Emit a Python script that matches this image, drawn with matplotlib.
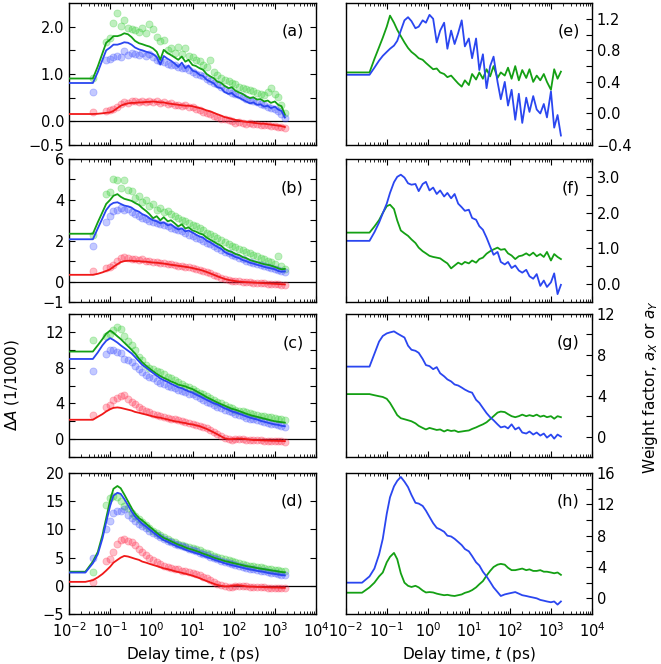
import matplotlib
matplotlib.use('Agg')
import matplotlib.pyplot as plt
from matplotlib.ticker import LogLocator, NullFormatter

plt.rcParams['font.family'] = 'DejaVu Sans'
plt.rcParams['font.size'] = 10.5

# delay times (ps) of the fitted curves and of the measured points
t_fit = [0.01, 0.025, 0.038, 0.05, 0.065, 0.08, 0.1, 0.12, 0.15, 0.18,
         0.22, 0.27, 0.33, 0.4, 0.5, 0.6, 0.75, 0.9, 1.1, 1.35,
         1.65, 2, 2.5, 3, 3.7, 4.5, 5.5, 6.7, 8, 10,
         12, 15, 18, 22, 27, 33, 40, 50, 60, 75,
         90, 110, 135, 165, 200, 250, 300, 370, 450, 550,
         670, 800, 1000, 1200, 1450, 1750]
t_dat = [0.038, 0.08, 0.1, 0.12, 0.15, 0.18, 0.22, 0.27, 0.33, 0.4,
         0.5, 0.6, 0.75, 0.9, 1.1, 1.35, 1.65, 2, 2.5, 3,
         3.7, 4.5, 5.5, 6.7, 8, 10, 12, 15, 18, 22,
         27, 33, 40, 50, 60, 75, 90, 110, 135, 165,
         200, 250, 300, 370, 450, 550, 670, 800, 1000, 1200,
         1450, 1750]
decades = [1e-2, 1e-1, 1e0, 1e1, 1e2, 1e3, 1e4]

# ---- panel (a)
a_green_fit = [0.905, 0.905, 0.905, 1.16, 1.44, 1.66, 1.73, 1.80, 1.80, 1.82,
               1.86, 1.84, 1.78, 1.70, 1.65, 1.63, 1.60, 1.58, 1.54, 1.47,
               1.30, 1.51, 1.44, 1.40, 1.35, 1.30, 1.37, 1.26, 1.30, 1.19,
               1.17, 1.12, 1.09, 1.00, 0.95, 0.91, 0.84, 0.81, 0.75, 0.70,
               0.72, 0.65, 0.61, 0.58, 0.53, 0.49, 0.51, 0.46, 0.47, 0.42,
               0.44, 0.39, 0.42, 0.35, 0.32, 0.14]
a_blue_fit = [0.81, 0.81, 0.81, 1.04, 1.30, 1.50, 1.56, 1.62, 1.62, 1.64,
              1.67, 1.66, 1.62, 1.56, 1.52, 1.50, 1.47, 1.45, 1.42, 1.36,
              1.20, 1.38, 1.32, 1.28, 1.22, 1.15, 1.24, 1.12, 1.18, 1.07,
              1.05, 0.98, 0.96, 0.88, 0.84, 0.80, 0.72, 0.70, 0.62, 0.58,
              0.60, 0.53, 0.50, 0.46, 0.42, 0.38, 0.40, 0.35, 0.36, 0.31,
              0.33, 0.28, 0.31, 0.25, 0.22, 0.08]
a_red_fit = [0.155, 0.155, 0.155, 0.16, 0.17, 0.18, 0.19, 0.22, 0.28, 0.33,
             0.36, 0.38, 0.39, 0.39, 0.40, 0.40, 0.41, 0.41, 0.42, 0.41,
             0.40, 0.40, 0.38, 0.37, 0.36, 0.35, 0.34, 0.33, 0.33, 0.32,
             0.30, 0.28, 0.26, 0.23, 0.21, 0.18, 0.15, 0.12, 0.09, 0.07,
             0.05, 0.03, 0.02, 0.00, -0.01, -0.02, -0.03, -0.04, -0.05, -0.05,
             -0.06, -0.07, -0.08, -0.09, -0.10, -0.12]
a_green_dat = [0.92, 1.68, 1.75, 2.08, 2.28, 2.02, 2.14, 1.98, 1.95, 1.92,
               1.88, 1.98, 1.86, 2.05, 1.95, 1.78, 1.70, 1.72, 1.50, 1.55,
               1.45, 1.58, 1.42, 1.55, 1.38, 1.35, 1.30, 1.28, 1.20, 1.15,
               1.30, 1.05, 0.98, 0.92, 0.88, 0.85, 0.80, 0.78, 0.72, 0.70,
               0.68, 0.66, 0.64, 0.60, 0.58, 0.55, 0.62, 0.70, 0.58, 0.52,
               0.35, 0.18]
a_blue_dat = [0.61, 1.30, 1.32, 1.35, 1.38, 1.36, 1.48, 1.40, 1.45, 1.42,
              1.40, 1.45, 1.38, 1.42, 1.35, 1.30, 1.28, 1.25, 1.22, 1.20,
              1.18, 1.15, 1.12, 1.12, 1.08, 1.05, 1.00, 0.98, 0.95, 0.90,
              0.86, 0.82, 0.78, 0.72, 0.68, 0.65, 0.60, 0.58, 0.55, 0.52,
              0.48, 0.45, 0.42, 0.40, 0.36, 0.34, 0.30, 0.28, 0.26, 0.22,
              0.15, 0.08]
a_red_dat = [0.20, 0.22, 0.24, 0.26, 0.30, 0.36, 0.40, 0.38, 0.42, 0.44,
             0.40, 0.42, 0.41, 0.44, 0.40, 0.42, 0.38, 0.40, 0.36, 0.38,
             0.34, 0.35, 0.32, 0.34, 0.30, 0.30, 0.26, 0.24, 0.20, 0.18,
             0.16, 0.12, 0.10, 0.06, 0.04, 0.02, 0.00, -0.03, -0.02, -0.04,
             -0.05, -0.04, -0.06, -0.05, -0.07, -0.08, -0.07, -0.10, -0.10, -0.12,
             -0.11, -0.14]

# ---- panel (b)
b_green_fit = [2.34, 2.34, 2.34, 2.9, 3.4, 3.8, 4.0, 4.2, 4.28, 4.15,
               4.05, 4.0, 3.95, 3.85, 3.75, 3.6, 3.45, 3.3, 3.1, 3.2,
               3.0, 3.15, 2.95, 3.0, 2.85, 2.7, 2.8, 2.6, 2.65, 2.5,
               2.45, 2.35, 2.3, 2.15, 2.05, 1.95, 1.85, 1.75, 1.6, 1.5,
               1.45, 1.35, 1.3, 1.2, 1.15, 1.05, 1.0, 0.95, 0.9, 0.85,
               0.82, 0.78, 0.72, 0.65, 0.6, 0.62]
b_blue_fit = [2.07, 2.07, 2.07, 2.6, 3.1, 3.5, 3.75, 3.85, 3.88, 3.8,
              3.72, 3.68, 3.62, 3.5, 3.42, 3.3, 3.22, 3.1, 3.0, 2.95,
              2.85, 2.9, 2.75, 2.8, 2.65, 2.55, 2.6, 2.45, 2.5, 2.4,
              2.3, 2.2, 2.15, 2.0, 1.92, 1.8, 1.7, 1.6, 1.45, 1.35,
              1.3, 1.2, 1.15, 1.05, 1.0, 0.92, 0.88, 0.82, 0.78, 0.72,
              0.68, 0.65, 0.6, 0.52, 0.48, 0.5]
b_red_fit = [0.33, 0.33, 0.33, 0.38, 0.45, 0.52, 0.6, 0.72, 0.85, 0.95,
             1.0, 1.02, 1.02, 1.0, 1.0, 0.98, 0.97, 0.95, 0.93, 0.92,
             0.9, 0.88, 0.85, 0.82, 0.8, 0.77, 0.75, 0.72, 0.7, 0.66,
             0.62, 0.58, 0.53, 0.47, 0.4, 0.33, 0.26, 0.19, 0.13, 0.08,
             0.05, 0.02, 0.0, -0.02, -0.03, -0.04, -0.05, -0.06, -0.07, -0.08,
             -0.09, -0.1, -0.11, -0.12, -0.13, -0.14]
b_green_dat = [2.3, 4.3, 4.4, 5.0, 4.95, 4.6, 4.95, 4.5, 4.45, 4.1,
               4.2, 3.9, 4.0, 3.7, 3.8, 3.5, 3.6, 3.4, 3.45, 3.3,
               3.2, 3.1, 3.0, 2.95, 2.85, 2.75, 2.7, 2.6, 2.5, 2.4,
               2.35, 2.25, 2.15, 2.05, 1.95, 1.85, 1.75, 1.7, 1.6, 1.55,
               1.45, 1.4, 1.3, 1.25, 1.15, 1.1, 1.0, 0.95, 0.85, 1.25,
               0.75, 0.6]
b_blue_dat = [1.75, 2.9, 3.2, 3.45, 3.5, 3.6, 3.5, 3.55, 3.4, 3.3,
              3.2, 3.1, 3.05, 2.95, 2.9, 2.85, 2.8, 2.75, 2.7, 2.6,
              2.55, 2.5, 2.45, 2.4, 2.3, 2.25, 2.15, 2.1, 2.0, 1.9,
              1.85, 1.75, 1.65, 1.55, 1.45, 1.4, 1.3, 1.25, 1.15, 1.1,
              1.0, 0.95, 0.9, 0.85, 0.8, 0.75, 0.7, 0.65, 0.6, 0.55,
              0.5, 0.45]
b_red_dat = [0.5, 0.65, 0.7, 0.8, 1.0, 1.15, 1.2, 1.15, 1.12, 1.1,
             1.05, 1.08, 1.02, 1.0, 0.98, 0.95, 0.92, 0.9, 0.87, 0.85,
             0.82, 0.78, 0.76, 0.72, 0.7, 0.66, 0.62, 0.58, 0.52, 0.46,
             0.4, 0.32, 0.25, 0.18, 0.12, 0.08, 0.05, 0.03, 0.02, 0.0,
             -0.02, -0.03, -0.05, -0.06, -0.08, -0.09, -0.1, -0.12, -0.13, -0.14,
             -0.15, -0.16]

# ---- panel (c)
c_green_fit = [9.8, 9.8, 9.8, 10.5, 11.2, 11.8, 12.15, 11.9, 11.5, 11.2,
               10.8, 10.4, 10.0, 9.6, 9.0, 8.6, 8.2, 7.9, 7.6, 7.3,
               7.05, 6.85, 6.65, 6.45, 6.3, 6.1, 6.0, 5.9, 5.75, 5.6,
               5.4, 5.15, 4.95, 4.7, 4.5, 4.3, 4.1, 3.9, 3.75, 3.55,
               3.4, 3.3, 3.15, 3.0, 2.85, 2.7, 2.6, 2.5, 2.4, 2.3,
               2.2, 2.1, 2.0, 1.95, 1.9, 1.85]
c_blue_fit = [8.97, 8.97, 8.97, 9.7, 10.5, 11.0, 11.3, 11.1, 10.8, 10.5,
              10.2, 9.9, 9.6, 9.2, 8.7, 8.3, 8.0, 7.7, 7.4, 7.1,
              6.8, 6.6, 6.4, 6.2, 6.0, 5.8, 5.7, 5.5, 5.35, 5.2,
              5.0, 4.8, 4.6, 4.4, 4.2, 4.0, 3.9, 3.65, 3.45, 3.3,
              3.1, 3.0, 2.85, 2.7, 2.55, 2.4, 2.3, 2.2, 2.05, 1.95,
              1.85, 1.75, 1.65, 1.6, 1.5, 1.45]
c_red_fit = [2.17, 2.17, 2.17, 2.5, 2.8, 3.1, 3.35, 3.5, 3.55, 3.5,
             3.4, 3.3, 3.2, 3.05, 2.95, 2.85, 2.75, 2.65, 2.55, 2.45,
             2.4, 2.3, 2.2, 2.1, 2.0, 1.95, 1.85, 1.8, 1.7, 1.65,
             1.55, 1.45, 1.3, 1.15, 0.95, 0.75, 0.55, 0.3, 0.1, 0.0,
             0.0, 0.05, 0.08, 0.05, 0.0, -0.05, -0.1, -0.1, -0.12, -0.15,
             -0.15, -0.18, -0.18, -0.2, -0.2, -0.22]
c_green_dat = [11.1, 11.5, 11.8, 12.2, 12.5, 12.3, 11.5, 11.0, 10.5, 10.0,
               9.2, 8.8, 8.3, 8.0, 7.8, 7.6, 7.5, 7.3, 7.0, 6.8,
               6.6, 6.4, 6.2, 6.0, 5.8, 5.6, 5.4, 5.2, 5.0, 4.8,
               4.6, 4.4, 4.2, 4.0, 3.8, 3.6, 3.5, 3.3, 3.2, 3.1,
               3.0, 2.9, 2.8, 2.7, 2.6, 2.55, 2.5, 2.45, 2.4, 2.3,
               2.2, 2.15]
c_blue_dat = [7.6, 9.5, 10.0, 10.0, 9.8, 9.6, 9.0, 8.8, 8.6, 8.2,
              7.8, 7.5, 7.2, 7.0, 6.8, 6.5, 6.3, 6.2, 6.0, 5.8,
              5.7, 5.5, 5.4, 5.3, 5.1, 5.0, 4.8, 4.6, 4.4, 4.2,
              4.0, 3.8, 3.65, 3.5, 3.3, 3.1, 3.0, 2.85, 2.7, 2.55,
              2.4, 2.3, 2.2, 2.1, 2.0, 1.9, 1.8, 1.75, 1.65, 1.6,
              1.5, 1.35]
c_red_dat = [2.7, 3.6, 3.8, 4.4, 4.6, 4.8, 4.9, 4.5, 4.2, 3.9,
             3.6, 3.4, 3.2, 3.0, 2.8, 2.7, 2.6, 2.5, 2.4, 2.3,
             2.2, 2.1, 2.0, 1.9, 1.8, 1.7, 1.6, 1.5, 1.4, 1.25,
             1.05, 0.85, 0.6, 0.35, 0.15, 0.0, -0.05, 0.0, 0.05, 0.0,
             -0.05, -0.1, -0.1, -0.15, -0.15, -0.18, -0.2, -0.2, -0.22, -0.25,
             -0.25, -0.28]

# ---- panel (d)
d_green_fit = [2.5, 2.5, 4.3, 6.0, 9.0, 12.0, 15.2, 17.2, 17.7, 17.3,
               16.2, 15.0, 13.8, 12.8, 12.0, 11.6, 11.0, 10.5, 10.0, 9.4,
               8.9, 8.5, 8.2, 7.9, 7.6, 7.3, 7.1, 6.8, 6.6, 6.4,
               6.2, 5.95, 5.7, 5.5, 5.25, 5.0, 4.8, 4.6, 4.4, 4.25,
               4.1, 3.95, 3.8, 3.65, 3.5, 3.4, 3.3, 3.15, 3.05, 2.95,
               2.85, 2.75, 2.65, 2.55, 2.45, 2.4]
d_blue_fit = [2.35, 2.35, 4.0, 5.6, 8.4, 11.3, 14.2, 16.0, 16.5, 16.3,
              15.4, 14.3, 13.2, 12.3, 11.6, 11.0, 10.5, 10.0, 9.5, 9.0,
              8.5, 8.1, 7.8, 7.5, 7.2, 6.9, 6.7, 6.4, 6.2, 6.0,
              5.8, 5.6, 5.35, 5.1, 4.9, 4.65, 4.45, 4.2, 4.0, 3.8,
              3.65, 3.5, 3.35, 3.2, 3.05, 2.9, 2.8, 2.65, 2.55, 2.45,
              2.3, 2.2, 2.1, 2.0, 1.9, 1.85]
d_red_fit = [0.7, 0.7, 1.0, 1.5, 2.1, 2.7, 3.4, 4.1, 4.6, 5.0,
             5.3, 5.2, 5.0, 4.8, 4.6, 4.3, 4.1, 3.9, 3.7, 3.5,
             3.3, 3.1, 2.95, 2.8, 2.6, 2.45, 2.3, 2.15, 2.0, 1.8,
             1.6, 1.35, 1.1, 0.85, 0.6, 0.35, 0.15, 0.0, -0.1, -0.1,
             0.0, 0.1, 0.1, 0.0, -0.1, -0.15, -0.15, -0.2, -0.2, -0.25,
             -0.25, -0.3, -0.3, -0.3, -0.35, -0.35]
d_green_dat = [2.5, 14.4, 15.5, 16.0, 15.8, 15.0, 14.2, 13.8, 13.0, 12.3,
               11.8, 11.3, 10.8, 10.2, 9.8, 9.4, 9.0, 8.6, 8.3, 8.0,
               7.8, 7.5, 7.3, 7.1, 6.9, 6.7, 6.5, 6.3, 6.0, 5.8,
               5.6, 5.3, 5.1, 4.9, 4.7, 4.5, 4.35, 4.2, 4.05, 3.9,
               3.75, 3.6, 3.5, 3.35, 3.25, 3.15, 3.05, 2.95, 2.85, 2.75,
               2.7, 2.6]
d_blue_dat = [4.9, 10.0, 11.5, 13.0, 13.3, 13.2, 13.6, 12.5, 12.0, 11.5,
              11.0, 10.6, 10.2, 9.8, 9.4, 9.0, 8.6, 8.3, 8.0, 7.7,
              7.5, 7.2, 7.0, 6.8, 6.6, 6.4, 6.1, 5.9, 5.6, 5.4,
              5.1, 4.9, 4.7, 4.45, 4.25, 4.0, 3.85, 3.7, 3.5, 3.35,
              3.2, 3.05, 2.95, 2.8, 2.7, 2.55, 2.45, 2.35, 2.25, 2.15,
              2.0, 1.9]
d_red_dat = [0.6, 4.4, 4.8, 6.0, 7.5, 8.2, 8.3, 8.0, 7.8, 7.2,
             6.6, 6.0, 5.5, 5.0, 4.6, 4.2, 3.9, 3.6, 3.4, 3.2,
             3.0, 2.9, 2.7, 2.6, 2.45, 2.3, 2.1, 1.9, 1.6, 1.3,
             1.0, 0.7, 0.4, 0.1, -0.1, -0.2, -0.2, -0.1, 0.0, 0.0,
             -0.1, -0.2, -0.2, -0.25, -0.3, -0.3, -0.35, -0.35, -0.4, -0.4,
             -0.45, -0.45]

# ---- weight factors, panels (e)-(h)
e_green = [0.52, 0.52, 0.52, 0.69, 0.84, 0.96, 1.10, 1.24, 1.15, 1.06,
           0.98, 0.90, 0.83, 0.78, 0.74, 0.70, 0.68, 0.64, 0.60, 0.56,
           0.57, 0.52, 0.50, 0.46, 0.48, 0.43, 0.38, 0.34, 0.42, 0.36,
           0.50, 0.43, 0.52, 0.44, 0.56, 0.47, 0.60, 0.45, 0.52, 0.48,
           0.58, 0.44, 0.60, 0.42, 0.55, 0.45, 0.56, 0.40, 0.48, 0.42,
           0.50, 0.40, 0.30, 0.56, 0.44, 0.53]
e_blue = [0.49, 0.49, 0.49, 0.58, 0.67, 0.73, 0.78, 0.82, 0.86, 0.92,
          1.05, 1.18, 1.22, 1.17, 1.08, 1.10, 1.18, 1.15, 1.25, 1.20,
          0.90, 1.05, 1.15, 0.82, 1.05, 0.88, 1.02, 1.18, 0.85, 0.95,
          0.70, 0.95, 0.55, 0.75, 0.32, 0.60, 0.72, 0.40, 0.18, 0.40,
          0.10, 0.30, -0.08, 0.25, -0.12, 0.20, 0.02, 0.22, 0.05, 0.00,
          0.12, -0.05, 0.28, -0.18, -0.02, -0.28]
f_green = [1.44, 1.44, 1.44, 1.61, 1.79, 1.99, 2.18, 2.22, 2.10, 1.78,
           1.50, 1.42, 1.35, 1.25, 1.15, 1.02, 0.92, 0.86, 0.79, 0.76,
           0.74, 0.72, 0.64, 0.58, 0.44, 0.52, 0.60, 0.55, 0.62, 0.58,
           0.66, 0.60, 0.70, 0.74, 0.85, 0.92, 0.97, 1.02, 0.96, 0.98,
           0.86, 0.80, 0.70, 0.78, 0.80, 0.86, 0.80, 0.88, 0.78, 0.84,
           0.76, 0.90, 0.66, 0.84, 0.76, 0.70]
f_blue = [1.21, 1.21, 1.21, 1.45, 1.72, 1.98, 2.25, 2.55, 2.85, 3.00,
          3.06, 2.98, 2.82, 2.78, 2.80, 2.60, 2.80, 2.86, 2.62, 2.70,
          2.52, 2.62, 2.45, 2.55, 2.40, 2.52, 2.25, 2.15, 2.05, 2.08,
          1.85, 1.80, 1.62, 1.52, 1.30, 1.05, 0.82, 0.90, 0.62, 0.55,
          0.62, 0.45, 0.52, 0.38, 0.32, 0.40, 0.22, 0.15, 0.28, -0.05,
          0.10, -0.08, 0.05, 0.30, -0.28, -0.02]
g_green = [4.16, 4.16, 4.16, 4.05, 3.95, 3.88, 3.7, 3.3, 2.65, 2.1,
           1.8, 1.7, 1.6, 1.5, 1.3, 1.05, 0.85, 0.7, 0.85, 0.75,
           0.65, 0.7, 0.5, 0.65, 0.55, 0.6, 0.45, 0.5, 0.55, 0.6,
           0.75, 0.9, 1.05, 1.2, 1.4, 1.7, 2.0, 2.35, 2.45, 2.4,
           2.2, 2.0, 1.9, 2.0, 2.15, 2.0, 2.1, 2.0, 2.15, 1.95,
           2.05, 1.9, 2.0, 1.75, 2.0, 1.9]
g_blue = [6.85, 6.85, 6.85, 8.1, 9.3, 9.85, 10.1, 10.2, 10.3, 10.1,
          9.9, 9.7, 8.9, 8.5, 8.4, 8.2, 7.6, 7.0, 6.9, 6.6,
          6.8, 6.2, 5.9, 5.6, 5.4, 5.1, 5.0, 4.8, 4.6, 4.4,
          4.3, 3.6, 3.3, 2.8, 2.3, 1.9, 1.6, 1.2, 0.9, 1.0,
          0.8, 1.2, 0.7, 0.9, 0.4, 0.3, 0.5, 0.2, 0.4, 0.1,
          0.3, -0.1, 0.2, -0.2, 0.2, 0.0]
h_green = [0.72, 0.72, 1.4, 2.0, 2.8, 3.3, 4.6, 5.3, 5.8, 5.0,
           3.2, 2.0, 1.6, 1.45, 1.6, 1.4, 1.0, 0.75, 0.8, 0.75,
           0.6, 0.5, 0.4, 0.45, 0.35, 0.3, 0.4, 0.5, 0.7, 0.85,
           1.05, 1.4, 1.8, 2.2, 2.9, 3.5, 4.0, 4.3, 4.4, 4.3,
           3.9, 3.6, 3.6, 3.7, 3.8, 3.6, 3.7, 3.5, 3.5, 3.6,
           3.4, 3.4, 3.3, 3.2, 3.3, 3.0]
h_blue = [2.0, 2.0, 2.8, 3.8, 5.6, 7.6, 10.8, 12.9, 14.3, 15.0,
          15.5, 14.9, 14.2, 13.2, 12.2, 12.1, 11.8, 11.2, 10.4, 9.6,
          9.0, 8.8, 8.5, 8.0, 7.9, 7.6, 7.2, 6.8, 6.3, 6.0,
          5.4, 4.6, 4.2, 3.4, 2.8, 2.1, 1.4, 0.8, 0.3, 0.5,
          0.6, 0.7, 0.8, 0.6, 0.4, 0.3, 0.2, 0.1, 0.0, -0.2,
          -0.3, -0.4, -0.5, -0.4, -0.8, -0.4]

GREEN_PT, BLUE_PT, RED_PT = '#2ecc2e', '#3a4cff', '#ff2a4a'
GREEN_LN, BLUE_LN, RED_LN = '#14a014', '#2a46f0', '#f01818'

fig = plt.figure(figsize=(6.61, 6.64), dpi=100)

rows = [(0.7816, 0.2139), (0.5452, 0.2154), (0.3117, 0.2154), (0.0753, 0.2123)]


def style(ax, yticks, ylabels, ylim, right=False, bottom=False):
    ax.set_xscale('log')
    ax.set_xticks(decades)
    ax.xaxis.set_minor_locator(LogLocator(base=10, subs=range(2, 10), numticks=50))
    ax.xaxis.set_minor_formatter(NullFormatter())
    ax.set_xlim(1e-2, 1e4)
    ax.set_ylim(*ylim)
    ax.set_yticks(yticks)
    ax.set_yticklabels(ylabels)
    ax.tick_params(which='both', direction='in', top=True, bottom=True)
    ax.tick_params(which='major', length=4.5, width=0.8)
    ax.tick_params(which='minor', length=2.5, width=0.6)
    if right:
        ax.tick_params(axis='y', left=False, right=True,
                       labelleft=False, labelright=True)
    else:
        ax.tick_params(axis='y', left=True, right=True)
    if not bottom:
        ax.tick_params(axis='x', labelbottom=False)
    else:
        ax.tick_params(axis='x', pad=5)
        ax.set_xlabel('Delay time, $t$ (ps)', fontsize=11)
    for sp in ax.spines.values():
        sp.set_linewidth(1.0)


left_panels = [
    ('(a)', a_green_dat, a_blue_dat, a_red_dat, a_green_fit, a_blue_fit, a_red_fit,
     [-0.5, 0, 0.5, 1.0, 1.5, 2.0], ['\u22120.5', '0.0', '', '1.0', '', '2.0'], (-0.5, 2.5)),
    ('(b)', b_green_dat, b_blue_dat, b_red_dat, b_green_fit, b_blue_fit, b_red_fit,
     [-1, 0, 1, 2, 3, 4, 5, 6], ['\u22121', '0', '', '2', '', '4', '', '6'], (-1, 6)),
    ('(c)', c_green_dat, c_blue_dat, c_red_dat, c_green_fit, c_blue_fit, c_red_fit,
     [-2, 0, 2, 4, 6, 8, 10, 12, 14], ['', '0', '', '4', '', '8', '', '12', ''], (-2, 14)),
    ('(d)', d_green_dat, d_blue_dat, d_red_dat, d_green_fit, d_blue_fit, d_red_fit,
     [-5, 0, 5, 10, 15, 20], ['\u22125', '0', '5', '10', '15', '20'], (-5, 20)),
]

right_panels = [
    ('(e)', e_green, e_blue,
     [-0.4, -0.2, 0.0, 0.2, 0.4, 0.6, 0.8, 1.0, 1.2, 1.4],
     ['\u22120.4', '', '0.0', '', '0.4', '', '0.8', '', '1.2', ''], (-0.4, 1.4)),
    ('(f)', f_green, f_blue,
     [-0.5, 0.0, 0.5, 1.0, 1.5, 2.0, 2.5, 3.0, 3.5],
     ['', '0.0', '', '1.0', '', '2.0', '', '3.0', ''], (-0.5, 3.5)),
    ('(g)', g_green, g_blue,
     [-2, 0, 2, 4, 6, 8, 10, 12],
     ['', '0', '', '4', '', '8', '', '12'], (-2, 12)),
    ('(h)', h_green, h_blue,
     [-2, 0, 2, 4, 6, 8, 10, 12, 14, 16],
     ['', '0', '', '4', '', '8', '', '12', '', '16'], (-2, 16)),
]

for i, (tag, gd, bd, rd, gf, bf, rf, yt, yl, lim) in enumerate(left_panels):
    y0, h = rows[i]
    ax = fig.add_axes([0.1044, y0, 0.3737, h])
    ax.axhline(0, color='black', lw=0.9, zorder=1)
    for vals, c in [(gd, GREEN_PT), (bd, BLUE_PT), (rd, RED_PT)]:
        ax.scatter(t_dat, vals, s=26, color=c, alpha=0.3, edgecolors=c,
                   linewidths=0.6, zorder=2)
    ax.plot(t_fit, gf, color=GREEN_LN, lw=1.3, zorder=3)
    ax.plot(t_fit, bf, color=BLUE_LN, lw=1.3, zorder=3)
    ax.plot(t_fit, rf, color=RED_LN, lw=1.3, zorder=3)
    ax.text(0.95, 0.80, tag, transform=ax.transAxes, ha='right', va='center',
            fontsize=11.5)
    style(ax, yt, yl, lim, right=False, bottom=(i == 3))
    if tag == '(c)':
        ax.set_ylabel('$\\Delta A$ (1/1000)', fontsize=11)
        ax.yaxis.set_label_coords(-0.195, 0.5)

for i, (tag, gw, bw, yt, yl, lim) in enumerate(right_panels):
    y0, h = rows[i]
    ax = fig.add_axes([0.523, y0, 0.3726, h])
    ax.plot(t_fit, gw, color=GREEN_LN, lw=1.3)
    ax.plot(t_fit, bw, color=BLUE_LN, lw=1.3)
    ax.text(0.95, 0.80, tag, transform=ax.transAxes, ha='right', va='center',
            fontsize=11.5)
    style(ax, yt, yl, lim, right=True, bottom=(i == 3))

fig.text(0.984, 0.417, 'Weight factor, $a_X$ or $a_Y$', rotation=90,
         ha='center', va='center', fontsize=11)

fig.savefig('out.png', dpi=100)
